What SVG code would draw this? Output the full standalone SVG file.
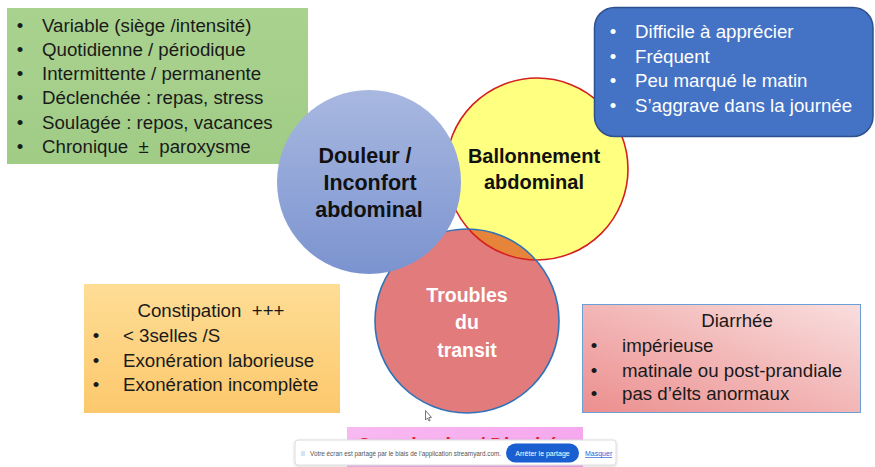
<svg xmlns="http://www.w3.org/2000/svg" width="875" height="467" viewBox="0 0 875 467">
  <defs>
    <linearGradient id="gBlueCircle" x1="0" y1="0" x2="0" y2="1">
      <stop offset="0" stop-color="#a8b8e0"/>
      <stop offset="1" stop-color="#7b93cf"/>
    </linearGradient>
    <linearGradient id="gGreen" x1="0" y1="0" x2="0" y2="1">
      <stop offset="0" stop-color="#aad28f"/>
      <stop offset="1" stop-color="#a0cc86"/>
    </linearGradient>
    <linearGradient id="gOrange" x1="0" y1="0" x2="0" y2="1">
      <stop offset="0" stop-color="#fedd96"/>
      <stop offset="1" stop-color="#fcc86c"/>
    </linearGradient>
    <linearGradient id="gPink" x1="1" y1="0" x2="0" y2="1">
      <stop offset="0" stop-color="#f9dede"/>
      <stop offset="1" stop-color="#ec8e8e"/>
    </linearGradient>
    <linearGradient id="gMagenta" x1="0" y1="0" x2="1" y2="0">
      <stop offset="0" stop-color="#f8b9f1"/>
      <stop offset="1" stop-color="#f6a8ee"/>
    </linearGradient>
    <clipPath id="clipRed">
      <circle cx="467" cy="321" r="92"/>
    </clipPath>
    <!-- only the top of the title shows above the notice bar -->
    <clipPath id="clipTitle">
      <rect x="340" y="427" width="250" height="12"/>
    </clipPath>
    <filter id="shadow" x="-10%" y="-50%" width="120%" height="200%">
      <feDropShadow dx="0" dy="1" stdDeviation="1.5" flood-color="#000" flood-opacity="0.18"/>
    </filter>
  </defs>
  <style>
    text { font-family: "Liberation Sans", Arial, sans-serif; white-space: pre; }
    .item { font-size: 18.7px; fill: #1a1a1a; }
    .itemW { font-size: 18.7px; fill: #ffffff; }
    .bul { text-anchor: middle; }
    .big { font-weight: bold; text-anchor: middle; fill: #111; }
    .bigW { font-weight: bold; text-anchor: middle; fill: #ffffff; }
    .ctr { text-anchor: middle; }
  </style>

  <rect width="875" height="467" fill="#ffffff"/>

  <!-- pain characteristics -->
  <g id="box-douleur">
    <rect x="7" y="8" width="301" height="156" fill="url(#gGreen)"/>
    <g class="item">
      <text x="20" y="32" class="bul">•</text><text x="42" y="32">Variable (siège /intensité)</text>
      <text x="20" y="56" class="bul">•</text><text x="42" y="56">Quotidienne / périodique</text>
      <text x="20" y="80" class="bul">•</text><text x="42" y="80">Intermittente / permanente</text>
      <text x="20" y="104" class="bul">•</text><text x="42" y="104">Déclenchée : repas, stress</text>
      <text x="20" y="129" class="bul">•</text><text x="42" y="129">Soulagée : repos, vacances</text>
      <text x="20" y="153" class="bul">•</text><text x="42" y="153">Chronique  ±  paroxysme</text>
    </g>
  </g>

  <!-- yellow + red circles with their overlap -->
  <g id="circle-ballonnement">
    <circle cx="537" cy="169" r="91" fill="#ffff80"/>
  </g>
  <g id="circle-transit">
    <circle cx="467" cy="321" r="92" fill="#e27b7b"/>
    <circle cx="537" cy="169" r="91" fill="#e6843a" clip-path="url(#clipRed)"/>
    <circle cx="537" cy="169" r="91" fill="none" stroke="#d42020" stroke-width="1.6"/>
    <circle cx="467" cy="321" r="92" fill="none" stroke="#2e72b8" stroke-width="1.6"/>
    <text class="bigW" font-size="19.5" x="467" y="302">Troubles</text>
    <text class="bigW" font-size="19.5" x="467" y="329">du</text>
    <text class="bigW" font-size="19.5" x="467" y="357">transit</text>
  </g>
  <g id="label-ballonnement">
    <text class="big" font-size="20" x="534" y="163">Ballonnement</text>
    <text class="big" font-size="20" x="534" y="189">abdominal</text>
  </g>

  <!-- bloating characteristics -->
  <g id="box-ballonnement">
    <rect x="594.5" y="7.5" width="278.5" height="129" rx="20" fill="#4472c4" stroke="#2f528f" stroke-width="1.5"/>
    <g class="itemW">
      <text x="613" y="38" class="bul">•</text><text x="635" y="38">Difficile à apprécier</text>
      <text x="613" y="63" class="bul">•</text><text x="635" y="63">Fréquent</text>
      <text x="613" y="87" class="bul">•</text><text x="635" y="87">Peu marqué le matin</text>
      <text x="613" y="112" class="bul">•</text><text x="635" y="112">S’aggrave dans la journée</text>
    </g>
  </g>

  <!-- pain circle -->
  <g id="circle-douleur">
    <circle cx="369" cy="182" r="92" fill="url(#gBlueCircle)"/>
    <text class="big" font-size="21.5" x="365" y="163">Douleur /</text>
    <text class="big" font-size="21.5" x="370" y="190">Inconfort</text>
    <text class="big" font-size="21.5" x="369" y="217">abdominal</text>
  </g>

  <!-- constipation -->
  <g id="box-constipation">
    <rect x="84" y="284" width="256" height="129" fill="url(#gOrange)"/>
    <g class="item">
      <text x="211" y="317" class="ctr">Constipation  +++</text>
      <text x="96" y="342" class="bul">•</text><text x="123" y="342">&lt; 3selles /S</text>
      <text x="96" y="367" class="bul">•</text><text x="123" y="367">Exonération laborieuse</text>
      <text x="96" y="391" class="bul">•</text><text x="123" y="391">Exonération incomplète</text>
    </g>
  </g>

  <!-- diarrhoea -->
  <g id="box-diarrhee">
    <rect x="582.5" y="304.5" width="278" height="108" fill="url(#gPink)" stroke="#6a9fd8" stroke-width="1"/>
    <g class="item">
      <text x="737" y="327" class="ctr">Diarrhée</text>
      <text x="594" y="352" class="bul">•</text><text x="622" y="352">impérieuse</text>
      <text x="594" y="377" class="bul">•</text><text x="622" y="377">matinale ou post-prandiale</text>
      <text x="594" y="400" class="bul">•</text><text x="622" y="400">pas d’élts anormaux</text>
    </g>
  </g>

  <!-- alternating transit, partly hidden below -->
  <g id="box-alternance">
    <rect x="347" y="427" width="236" height="40" fill="url(#gMagenta)"/>
    <g clip-path="url(#clipTitle)">
      <text x="357" y="455" font-size="23" font-weight="bold" fill="#e2222c" textLength="211" lengthAdjust="spacingAndGlyphs">Constipation / Diarrhée</text>
    </g>
  </g>

  <!-- mouse pointer -->
  <path d="M425.5 410.5 L425.5 420 L427.5 418 L429 421 L430.2 420.4 L428.8 417.6 L431.5 417.4 Z" fill="#ffffff" stroke="#555" stroke-width="0.8"/>

  <!-- screen-sharing notice bar -->
  <g id="share-bar">
    <rect x="295" y="440" width="321" height="25" rx="3" fill="#ffffff" stroke="#dcdcdc" stroke-width="1" filter="url(#shadow)"/>
    <text x="301" y="456" font-size="7" fill="#aaaaaa">II</text>
    <text x="310" y="455.5" font-size="6.6" fill="#555555" textLength="191" lengthAdjust="spacingAndGlyphs">Votre écran est partagé par le biais de l'application streamyard.com.</text>
    <rect x="506" y="443.5" width="73" height="19" rx="9.5" fill="#1a5fd2"/>
    <text x="542.5" y="456" font-size="7" fill="#ffffff" text-anchor="middle">Arrêter le partage</text>
    <text x="585" y="456" font-size="7" fill="#2b62d6" text-decoration="underline">Masquer</text>
  </g>
</svg>
